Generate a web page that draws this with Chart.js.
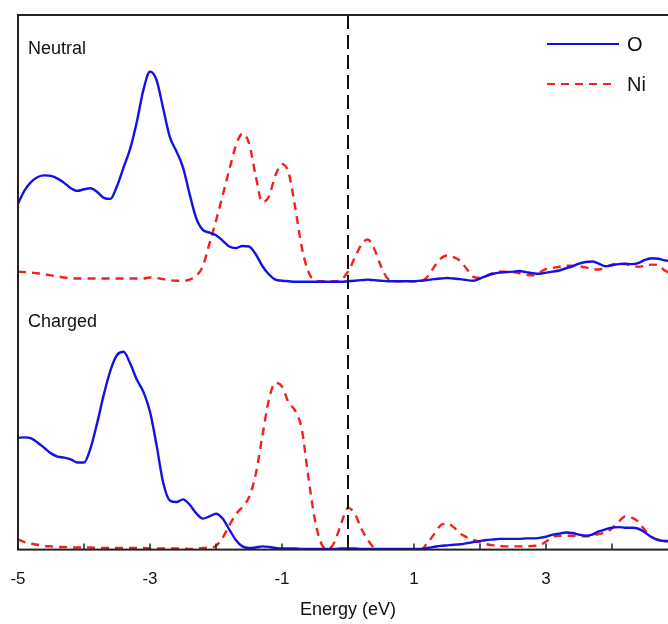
<!DOCTYPE html>
<html>
<head>
<meta charset="utf-8">
<script src="https://cdn.jsdelivr.net/npm/chart.js@4.4.1/dist/chart.umd.min.js"></script>
<style>
    html, body { margin: 0; padding: 0; overflow: hidden; background: #fff; width: 668px; height: 624px; }
    /* pull the canvas left so the plot frame sits at x=18; the right side runs past the window like the source */
    #dos { display: block; margin-left: -10px; }
</style>
</head>
<body>
<canvas id="dos" width="713" height="624"></canvas>
<script>
// Energy grid (eV), 0.1 eV steps from -5 to 5
const energy = Array.from({ length: 101 }, (_, i) => Math.round((-5 + i * 0.1) * 10) / 10);

// Neutral cell, projected DOS (arb. units)
const neutralO = [
    1.47, 1.72, 1.88, 1.97, 2.00, 1.99, 1.94, 1.86, 1.76, 1.71,
    1.74, 1.76, 1.69, 1.58, 1.56, 1.80, 2.15, 2.50, 3.00, 3.60,
    3.94, 3.78, 3.25, 2.72, 2.45, 2.15, 1.65, 1.20, 0.98, 0.93,
    0.88, 0.78, 0.67, 0.64, 0.68, 0.67, 0.53, 0.31, 0.15, 0.05,
    0.03, 0.02, 0.01, 0.01, 0.01, 0.01, 0.01, 0.01, 0.01, 0.01,
    0.02, 0.03, 0.04, 0.05, 0.04, 0.03, 0.02, 0.02, 0.02, 0.02,
    0.02, 0.03, 0.04, 0.06, 0.07, 0.08, 0.07, 0.06, 0.04, 0.03,
    0.07, 0.12, 0.16, 0.18, 0.19, 0.20, 0.21, 0.19, 0.17, 0.16,
    0.18, 0.20, 0.22, 0.26, 0.30, 0.35, 0.38, 0.39, 0.35, 0.30,
    0.32, 0.34, 0.35, 0.34, 0.36, 0.42, 0.45, 0.44, 0.41, 0.39,
    0.37
];
const neutralNi = [
    0.20, 0.19, 0.18, 0.17, 0.15, 0.13, 0.11, 0.09, 0.08, 0.07,
    0.07, 0.07, 0.07, 0.07, 0.07, 0.07, 0.07, 0.07, 0.07, 0.07,
    0.09, 0.08, 0.06, 0.04, 0.03, 0.03, 0.05, 0.12, 0.30, 0.72,
    1.15, 1.62, 2.10, 2.55, 2.78, 2.60, 2.00, 1.50, 1.60, 2.00,
    2.21, 2.05, 1.40, 0.65, 0.20, 0.03, 0.02, 0.02, 0.02, 0.05,
    0.20, 0.45, 0.70, 0.80, 0.62, 0.30, 0.07, 0.02, 0.02, 0.02,
    0.02, 0.02, 0.10, 0.28, 0.44, 0.50, 0.47, 0.40, 0.25, 0.10,
    0.08, 0.12, 0.18, 0.20, 0.20, 0.19, 0.17, 0.14, 0.13, 0.18,
    0.25, 0.27, 0.29, 0.31, 0.31, 0.30, 0.28, 0.25, 0.24, 0.28,
    0.33, 0.35, 0.34, 0.31, 0.29, 0.31, 0.33, 0.32, 0.22, 0.17,
    0.15
];

// Charged cell, projected DOS (arb. units)
const chargedO = [
    2.09, 2.10, 2.08, 2.00, 1.90, 1.80, 1.74, 1.72, 1.69, 1.63,
    1.63, 1.90, 2.37, 2.90, 3.35, 3.64, 3.70, 3.48, 3.18, 2.95,
    2.58, 1.95, 1.25, 0.92, 0.89, 0.94, 0.84, 0.68, 0.58, 0.62,
    0.67, 0.58, 0.38, 0.18, 0.06, 0.03, 0.04, 0.06, 0.05, 0.03,
    0.02, 0.02, 0.02, 0.01, 0.01, 0.01, 0.01, 0.01, 0.01, 0.02,
    0.02, 0.02, 0.01, 0.01, 0.01, 0.01, 0.01, 0.01, 0.01, 0.01,
    0.01, 0.01, 0.03, 0.05, 0.07, 0.08, 0.09, 0.10, 0.12, 0.14,
    0.16, 0.18, 0.19, 0.20, 0.20, 0.20, 0.20, 0.21, 0.21, 0.22,
    0.24, 0.28, 0.30, 0.32, 0.31, 0.28, 0.26, 0.28, 0.34, 0.38,
    0.41, 0.42, 0.41, 0.41, 0.39, 0.32, 0.23, 0.18, 0.16, 0.16,
    0.16
];
const chargedNi = [
    0.19, 0.14, 0.11, 0.09, 0.07, 0.06, 0.05, 0.05, 0.04, 0.04,
    0.04, 0.04, 0.03, 0.03, 0.03, 0.03, 0.03, 0.03, 0.03, 0.03,
    0.02, 0.02, 0.02, 0.02, 0.02, 0.02, 0.01, 0.02, 0.03, 0.04,
    0.07, 0.22, 0.45, 0.66, 0.80, 0.98, 1.40, 2.10, 2.80, 3.12,
    3.05, 2.75, 2.60, 2.25, 1.35, 0.55, 0.10, 0.01, 0.15, 0.50,
    0.78, 0.68, 0.40, 0.18, 0.03, 0.00, 0.00, 0.00, 0.00, 0.00,
    0.00, 0.00, 0.12, 0.28, 0.45, 0.49, 0.42, 0.30, 0.23, 0.18,
    0.14, 0.10, 0.08, 0.07, 0.06, 0.06, 0.06, 0.06, 0.07, 0.08,
    0.15, 0.24, 0.26, 0.26, 0.26, 0.25, 0.25, 0.26, 0.29, 0.32,
    0.40, 0.52, 0.62, 0.60, 0.52, 0.36, 0.24, 0.18, 0.16, 0.15,
    0.15
];

// Neutral panel is stacked above the charged one
const NEUTRAL_SHIFT = 5;
const panelLabels = ['Neutral', 'Charged'];
const speciesLabels = ['O', 'Ni'];
const axisTitle = 'Energy (eV)';

const BLUE = '#1212e6';
const RED = '#f2201e';
const FONT = "'Liberation Sans', Arial, sans-serif";

const toPoints = (vals, shift) => vals.map((v, i) => ({ x: energy[i], y: v + shift }));

function lineSet(label, vals, shift, color, dashed) {
    return {
        label: label,
        data: toPoints(vals, shift),
        borderColor: color,
        borderWidth: 2.4,
        borderDash: dashed ? [8, 6] : [],
        pointRadius: 0,
        fill: false,
        cubicInterpolationMode: 'monotone',
    };
}

// frame, inward ticks, Fermi level, panel labels, axis title and legend
const decorations = {
    id: 'decorations',
    afterDatasetsDraw(chart) {
        const { ctx, chartArea: a, scales } = chart;
        const xs = scales.x;
        ctx.save();

        // Fermi level
        const x0 = xs.getPixelForValue(0);
        ctx.strokeStyle = '#111';
        ctx.lineWidth = 2;
        ctx.setLineDash([14, 6]);
        ctx.beginPath();
        ctx.moveTo(x0, a.top);
        ctx.lineTo(x0, a.bottom);
        ctx.stroke();
        ctx.setLineDash([]);

        // frame
        ctx.strokeStyle = '#222';
        ctx.lineWidth = 2;
        ctx.strokeRect(a.left, a.top, a.right - a.left, a.bottom - a.top);

        // inward ticks on the energy axis
        ctx.lineWidth = 1.5;
        xs.ticks.forEach(t => {
            const px = xs.getPixelForValue(t.value);
            ctx.beginPath();
            ctx.moveTo(px, a.bottom);
            ctx.lineTo(px, a.bottom - 6);
            ctx.stroke();
        });

        // panel labels
        ctx.fillStyle = '#111';
        ctx.font = '18px ' + FONT;
        ctx.textBaseline = 'alphabetic';
        ctx.textAlign = 'left';
        ctx.fillText(panelLabels[0], a.left + 10, 54);
        ctx.fillText(panelLabels[1], a.left + 10, 327);

        // axis title
        ctx.textAlign = 'center';
        ctx.textBaseline = 'middle';
        ctx.fillText(axisTitle, x0, 610);

        // legend (placed against the visible window, whose right edge is cut)
        const lx = a.left - 18;
        ctx.lineWidth = 2;
        ctx.strokeStyle = BLUE;
        ctx.beginPath();
        ctx.moveTo(lx + 547, 44);
        ctx.lineTo(lx + 619, 44);
        ctx.stroke();
        ctx.strokeStyle = RED;
        ctx.setLineDash([8, 6]);
        ctx.beginPath();
        ctx.moveTo(lx + 547, 84);
        ctx.lineTo(lx + 614, 84);
        ctx.stroke();
        ctx.setLineDash([]);
        ctx.font = '20px ' + FONT;
        ctx.textAlign = 'left';
        ctx.fillText(speciesLabels[0], lx + 627, 45);
        ctx.fillText(speciesLabels[1], lx + 627, 85);

        ctx.restore();
    },
};

new Chart(document.getElementById('dos'), {
    type: 'line',
    data: {
        datasets: [
            lineSet('O neutral', neutralO, NEUTRAL_SHIFT, BLUE, false),
            lineSet('Ni neutral', neutralNi, NEUTRAL_SHIFT, RED, true),
            lineSet('O charged', chargedO, 0, BLUE, false),
            lineSet('Ni charged', chargedNi, 0, RED, true),
        ],
    },
    options: {
        responsive: false,
        animation: false,
        layout: { padding: { left: 28, top: 15, right: 25, bottom: 14 } },
        plugins: {
            legend: { display: false },
            tooltip: { enabled: false },
        },
        scales: {
            x: {
                type: 'linear',
                min: -5,
                max: 5,
                grid: { display: false, drawTicks: false },
                border: { display: false },
                ticks: {
                    stepSize: 1,
                    padding: 20,
                    color: '#111',
                    maxRotation: 0,
                    autoSkip: false,
                    font: { family: FONT, size: 17 },
                    callback: v => (Math.abs(v) % 2 === 1 ? String(v) : ''),
                },
            },
            y: {
                display: false,
                min: 0,
                max: 10,
            },
        },
    },
    plugins: [decorations],
});
</script>
</body>
</html>
